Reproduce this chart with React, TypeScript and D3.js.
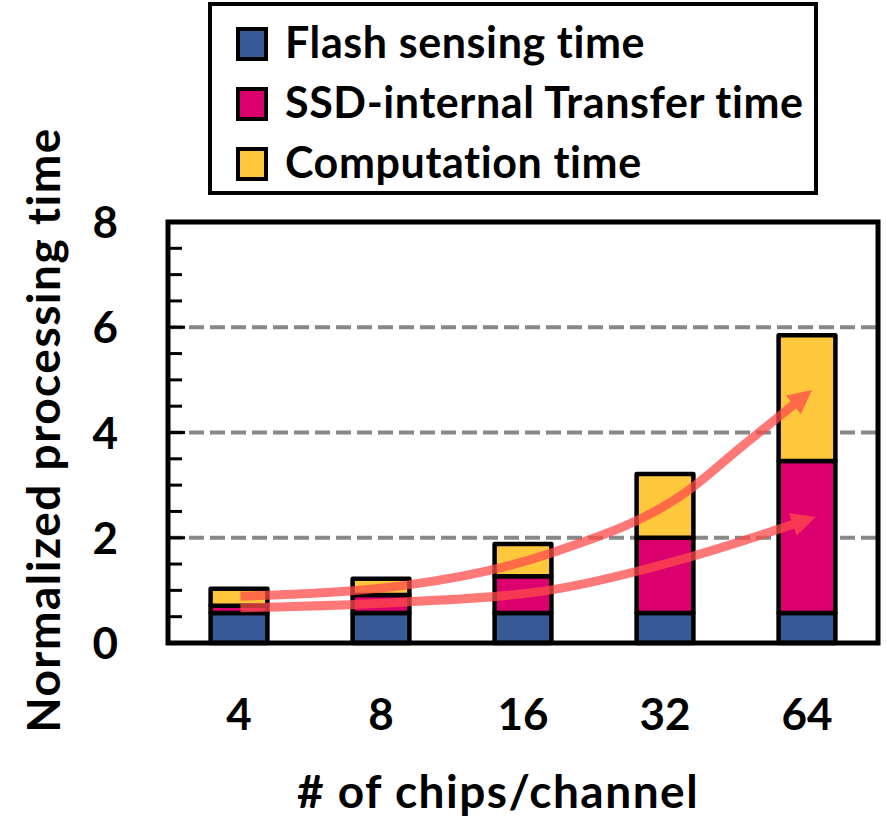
import React, { useEffect, useRef } from 'react';
import * as d3 from 'd3';

const categories = ['4', '8', '16', '32', '64'];
const flashSensing = [0.57, 0.57, 0.57, 0.57, 0.57];
const transferTime = [0.14, 0.34, 0.7, 1.43, 2.89];
const computeTime = [0.32, 0.31, 0.61, 1.21, 2.39];
const seriesNames = ['Flash sensing time', 'SSD-internal Transfer time', 'Computation time'];
const seriesColors = ['#375A96', '#DC006E', '#FFC83C'];
const yTicks = [0, 2, 4, 6, 8];
const gridValues = [2, 4, 6];
// trend arrows: [bar slot, value]
const upperArrow = [[0.01, 0.89], [1.18, 1.1], [2.2, 1.71], [3.17, 2.91], [3.53, 3.71], [3.92, 4.56]];
const lowerArrow = [[0.01, 0.67], [1.18, 0.78], [2.2, 1.01], [3.17, 1.63], [3.92, 2.27]];

const FONT = 'Lato, "Open Sans", sans-serif';

function StackedChart() {
    const ref = useRef<SVGSVGElement>(null);
    const width = 887;
    const height = 822;
    const margin = { top: 222, right: 9, bottom: 179, left: 168 };

    useEffect(() => {
        const svg = d3.select(ref.current);
        svg.selectAll('*').remove();

        const x = d3
            .scaleBand()
            .domain(categories)
            .range([margin.left, width - margin.right])
            .paddingInner(0.6)
            .paddingOuter(0.3);
        const y = d3
            .scaleLinear()
            .domain([0, 8])
            .range([height - margin.bottom, margin.top]);
        const slot = d3
            .scaleLinear()
            .domain([0, categories.length - 1])
            .range([x(categories[0])! + x.bandwidth() / 2, x(categories[categories.length - 1])! + x.bandwidth() / 2]);

        const rows = categories.map((c, i) => ({
            cat: c,
            flash: flashSensing[i],
            transfer: transferTime[i],
            compute: computeTime[i]
        }));
        const stack = d3.stack<any>().keys(['flash', 'transfer', 'compute'])(rows);

        // gridlines
        svg.append('g')
            .selectAll('line')
            .data(gridValues)
            .join('line')
            .attr('x1', margin.left)
            .attr('x2', width - margin.right)
            .attr('y1', (d) => y(d))
            .attr('y2', (d) => y(d))
            .attr('stroke', '#888')
            .attr('stroke-width', 4)
            .attr('stroke-dasharray', '15 6');

        // minor ticks (inside)
        const minor = d3.range(0.5, 8, 0.5);
        svg.append('g')
            .selectAll('line')
            .data(minor)
            .join('line')
            .attr('x1', margin.left)
            .attr('x2', (d) => (d % 2 === 0 ? margin.left + 17 : margin.left + 14))
            .attr('y1', (d) => y(d))
            .attr('y2', (d) => y(d))
            .attr('stroke', '#000')
            .attr('stroke-width', 3);

        // bars
        svg.append('g')
            .selectAll('g')
            .data(stack)
            .join('g')
            .attr('fill', (d, i) => seriesColors[i])
            .selectAll('rect')
            .data((d) => d)
            .join('rect')
            .attr('x', (d: any) => x(d.data.cat)!)
            .attr('width', x.bandwidth())
            .attr('y', (d) => y(d[1]))
            .attr('height', (d) => y(d[0]) - y(d[1]))
            .attr('stroke', '#000')
            .attr('stroke-width', 4.5)
            .attr('stroke-linejoin', 'round');

        // frame
        svg.append('rect')
            .attr('x', margin.left)
            .attr('y', margin.top)
            .attr('width', width - margin.right - margin.left)
            .attr('height', height - margin.bottom - margin.top)
            .attr('fill', 'none')
            .attr('stroke', '#000')
            .attr('stroke-width', 5);

        // arrows
        const defs = svg.append('defs');
        defs.append('marker')
            .attr('id', 'head')
            .attr('markerUnits', 'userSpaceOnUse')
            .attr('viewBox', '0 0 24 24')
            .attr('markerWidth', 24)
            .attr('markerHeight', 24)
            .attr('refX', 3)
            .attr('refY', 12)
            .attr('orient', 'auto')
            .append('path')
            .attr('d', 'M0,0 L24,12 L0,24 Z')
            .attr('fill', '#FF4B4B');

        const line = d3
            .line<number[]>()
            .x((d) => slot(d[0]))
            .y((d) => y(d[1]))
            .curve(d3.curveMonotoneX);

        [upperArrow, lowerArrow].forEach((pts) => {
            svg.append('g')
                .attr('opacity', 0.75)
                .append('path')
                .attr('d', line(pts))
                .attr('fill', 'none')
                .attr('stroke', '#FF4B4B')
                .attr('stroke-width', 9)
                .attr('marker-end', 'url(#head)');
        });

        // y tick labels
        svg.append('g')
            .selectAll('text')
            .data(yTicks)
            .join('text')
            .attr('x', 118)
            .attr('y', (d) => y(d) + 16)
            .attr('text-anchor', 'end')
            .attr('font-family', FONT)
            .attr('font-weight', 700)
            .attr('font-size', 44)
            .text((d) => d);

        // x tick labels
        svg.append('g')
            .selectAll('text')
            .data(categories)
            .join('text')
            .attr('x', (d) => x(d)! + x.bandwidth() / 2)
            .attr('y', 730)
            .attr('text-anchor', 'middle')
            .attr('font-family', FONT)
            .attr('font-weight', 700)
            .attr('font-size', 44)
            .text((d) => d);

        // axis titles
        svg.append('text')
            .attr('transform', `translate(60,430) rotate(-90)`)
            .attr('text-anchor', 'middle')
            .attr('font-family', FONT)
            .attr('font-weight', 700)
            .attr('font-size', 46)
            .attr('letter-spacing', 1.5)
            .text('Normalized processing time');
        svg.append('text')
            .attr('x', 498)
            .attr('y', 808)
            .attr('text-anchor', 'middle')
            .attr('font-family', FONT)
            .attr('font-weight', 700)
            .attr('font-size', 46)
            .attr('letter-spacing', 1.5)
            .text('# of chips/channel');

        // legend
        const lg = svg.append('g');
        lg.append('rect')
            .attr('x', 210)
            .attr('y', 4)
            .attr('width', 606)
            .attr('height', 189)
            .attr('fill', '#fff')
            .attr('stroke', '#000')
            .attr('stroke-width', 4);
        const item = lg
            .selectAll('g')
            .data(seriesNames)
            .join('g')
            .attr('transform', (d, i) => `translate(0,${i * 60})`);
        item.append('rect')
            .attr('x', 238)
            .attr('y', 29)
            .attr('width', 28)
            .attr('height', 30)
            .attr('fill', (d, i) => seriesColors[i])
            .attr('stroke', '#000')
            .attr('stroke-width', 4);
        item.append('text')
            .attr('x', 285)
            .attr('y', 58)
            .attr('font-family', FONT)
            .attr('font-weight', 700)
            .attr('font-size', 43)
            .attr('letter-spacing', 0.6)
            .text((d) => d);
    }, []);

    return (
        <svg
            ref={ref}
            width={width}
            height={height}
            style={{ position: 'absolute', left: 0, top: 0, background: '#fff' }}
        />
    );
}

export default function App() {
    return <StackedChart />;
}
